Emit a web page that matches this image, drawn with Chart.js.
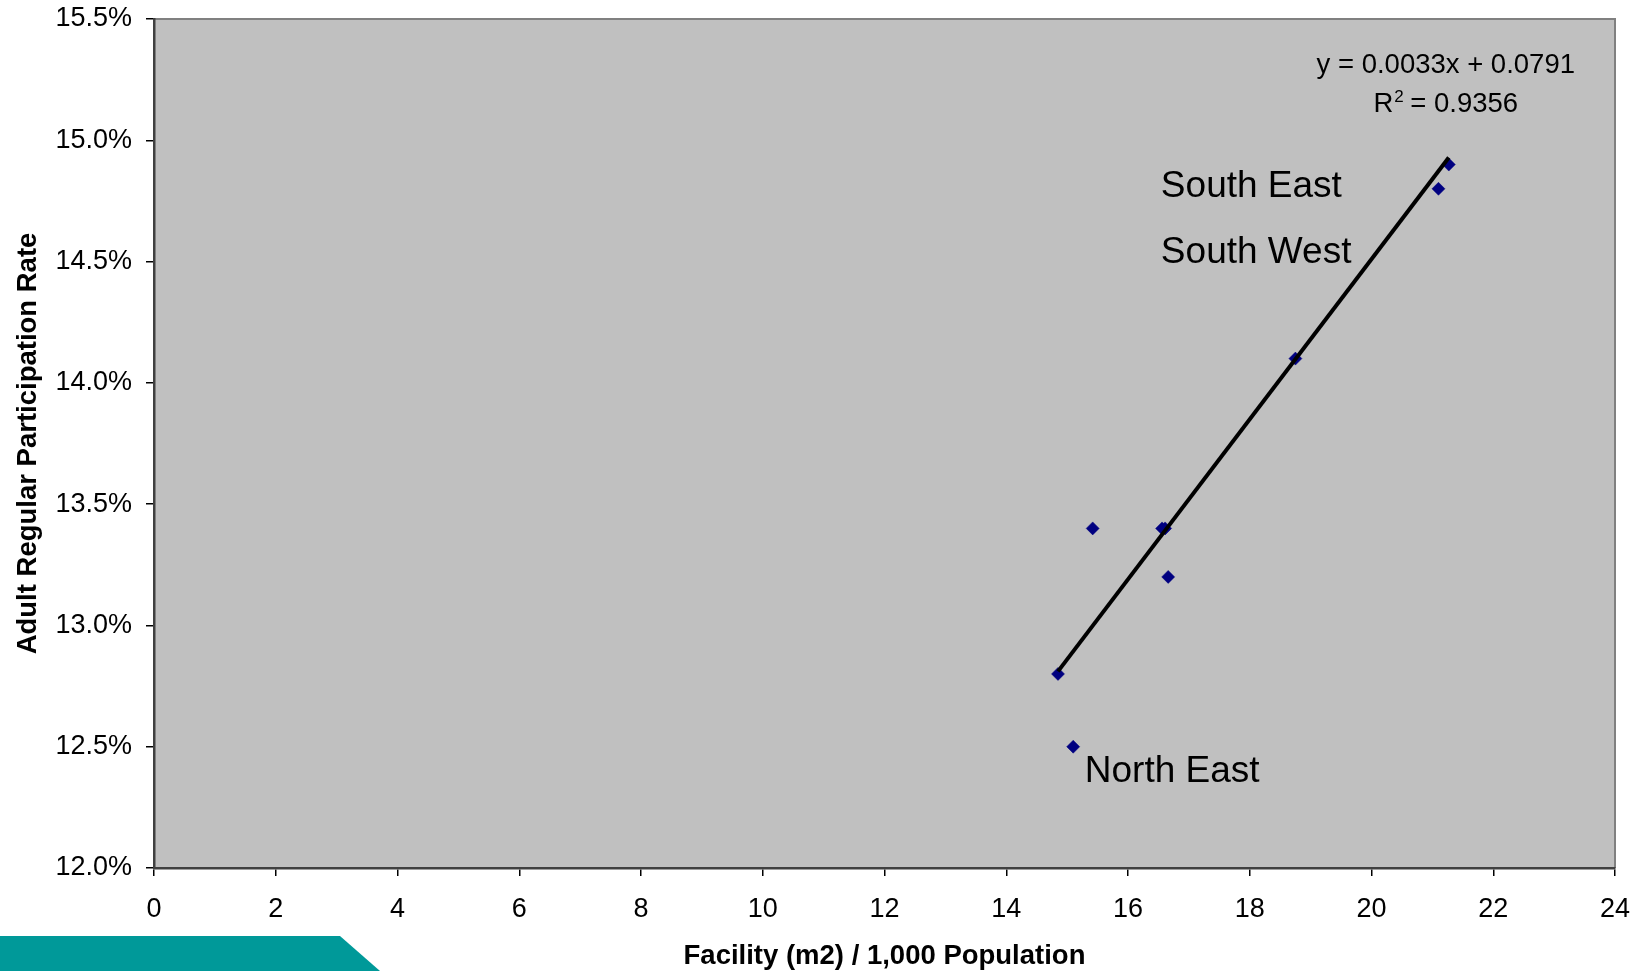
<!DOCTYPE html>
<html>
<head>
<meta charset="utf-8">
<title>Facility provision vs adult participation</title>
<script src="https://cdn.jsdelivr.net/npm/chart.js@4/dist/chart.umd.min.js"></script>
<style>
  html, body { margin: 0; padding: 0; background: #ffffff; }
  #wrap { position: relative; width: 1639px; height: 971px; overflow: hidden; }
  #band {
    position: absolute; left: 0; top: 936px; width: 380px; height: 35px;
    background: #009999;
    clip-path: polygon(0 0, 340px 0, 380px 100%, 0 100%);
  }
  #chart { position: absolute; left: 0; top: 0; }
</style>
</head>
<body>
<div id="wrap">
  <div id="band"></div>
  <canvas id="chart" width="1639" height="971"></canvas>
</div>
<script>
// Facility space (m2 per 1,000 people) and adult regular participation (%) by region
const facility      = [21.27, 21.10, 18.75, 15.42, 16.56, 16.61, 16.66, 14.85, 15.10];
const participation = [14.9,  14.8,  14.1,  13.4,  13.4,  13.4,  13.2,  12.8,  12.5];

// Linear trend (participation as a fraction)
const trendSlope = 0.0033;
const trendIntercept = 0.0791;
const rSquared = 0.9356;

// Axis ticks
const xTicks = [0, 2, 4, 6, 8, 10, 12, 14, 16, 18, 20, 22, 24];
const yTicks = [12.0, 12.5, 13.0, 13.5, 14.0, 14.5, 15.0, 15.5];

// Region call-outs
const regionNames = ['South East', 'South West', 'North East'];

const FONT = "'Liberation Sans', Arial, Helvetica, sans-serif";

const points = facility.map((x, i) => ({ x: x, y: participation[i] }));
const xMin = Math.min(...facility);
const xMax = Math.max(...facility);
const trendAt = x => (trendSlope * x + trendIntercept) * 100;
const trendLine = [{ x: xMin, y: trendAt(xMin) }, { x: xMax, y: trendAt(xMax) }];

// Grey plot area with thin frame on the top and right
const plotBackground = {
  id: 'plotBackground',
  beforeDraw(chart) {
    const { ctx, chartArea: a } = chart;
    ctx.save();
    ctx.fillStyle = '#c0c0c0';
    ctx.fillRect(a.left, a.top, a.right - a.left, a.bottom - a.top);
    ctx.strokeStyle = '#808080';
    ctx.lineWidth = 2;
    ctx.beginPath();
    ctx.moveTo(a.left, a.top);
    ctx.lineTo(a.right, a.top);
    ctx.lineTo(a.right, a.bottom);
    ctx.stroke();
    ctx.restore();
  }
};

// Region names and the trend equation, placed in data coordinates
const callouts = {
  id: 'callouts',
  afterDatasetsDraw(chart) {
    const { ctx, scales: { x, y } } = chart;
    ctx.save();
    ctx.fillStyle = '#000';
    ctx.textBaseline = 'alphabetic';

    ctx.font = '37px ' + FONT;
    ctx.textAlign = 'left';
    const spots = [[16.54, 14.767], [16.54, 14.493], [15.29, 12.356]];
    regionNames.forEach((name, i) => {
      ctx.fillText(name, x.getPixelForValue(spots[i][0]), y.getPixelForValue(spots[i][1]));
    });

    // Equation block
    const cx = x.getPixelForValue(21.22);
    ctx.font = '27.5px ' + FONT;
    ctx.textAlign = 'center';
    const eq = 'y = ' + trendSlope + 'x + ' + trendIntercept;
    ctx.fillText(eq, cx, y.getPixelForValue(15.279));

    const base2 = y.getPixelForValue(15.118);
    ctx.textAlign = 'left';
    const rest = ' = ' + rSquared;
    ctx.font = '27.5px ' + FONT;
    const wR = ctx.measureText('R').width;
    const wRest = ctx.measureText(rest).width;
    ctx.font = '17px ' + FONT;
    const wSup = ctx.measureText('2').width;
    const startX = cx - (wR + wSup + wRest) / 2;
    ctx.font = '27.5px ' + FONT;
    ctx.fillText('R', startX, base2);
    ctx.font = '17px ' + FONT;
    ctx.fillText('2', startX + wR + 1, base2 - 10);
    ctx.font = '27.5px ' + FONT;
    ctx.fillText(rest, startX + wR + wSup, base2);
    ctx.restore();
  }
};

Chart.defaults.font.family = FONT;
Chart.defaults.color = '#000';

new Chart(document.getElementById('chart'), {
  type: 'scatter',
  data: {
    datasets: [
      {
        label: 'Trend',
        data: trendLine,
        showLine: true,
        borderColor: '#000000',
        borderWidth: 4,
        pointRadius: 0,
        pointHoverRadius: 0,
        order: 0
      },
      {
        label: 'Regions',
        data: points,
        pointStyle: 'rectRot',
        pointRadius: 6.5,
        pointHoverRadius: 6.5,
        backgroundColor: '#000080',
        borderColor: '#000080',
        borderWidth: 0.5,
        order: 1
      }
    ]
  },
  options: {
    responsive: false,
    animation: false,
    devicePixelRatio: 1,
    layout: { padding: { left: 0, right: 24, top: 19, bottom: 0 } },
    plugins: {
      legend: { display: false },
      tooltip: { enabled: false }
    },
    scales: {
      x: {
        type: 'linear',
        min: 0,
        max: 24,
        afterBuildTicks(scale) { scale.ticks = xTicks.map(v => ({ value: v })); },
        afterFit(scale) {
          scale.height = 103;
          scale.paddingLeft = 0;
          scale.paddingRight = 0;
        },
        ticks: {
          font: { size: 27 },
          padding: 17.5,
          maxRotation: 0,
          autoSkip: false,
          callback: v => String(v)
        },
        grid: {
          display: true,
          drawOnChartArea: false,
          drawTicks: true,
          tickLength: 8,
          color: '#000000',
          lineWidth: 1.5
        },
        border: { display: true, color: '#404040', width: 2.5 },
        title: {
          display: true,
          text: 'Facility (m2) / 1,000 Population',
          font: { size: 27.5, weight: 'bold', lineHeight: 1.0 },
          padding: { top: 0, bottom: 1 }
        }
      },
      y: {
        type: 'linear',
        min: 12,
        max: 15.5,
        afterBuildTicks(scale) { scale.ticks = yTicks.map(v => ({ value: v })); },
        afterFit(scale) {
          scale.width = 154;
          scale.paddingTop = 0;
          scale.paddingBottom = 0;
        },
        ticks: {
          font: { size: 27 },
          padding: 14,
          autoSkip: false,
          callback: v => Number(v).toFixed(1) + '%'
        },
        grid: {
          display: true,
          drawOnChartArea: false,
          drawTicks: true,
          tickLength: 8,
          color: '#000000',
          lineWidth: 1.5
        },
        border: { display: true, color: '#404040', width: 2.5 },
        title: {
          display: true,
          text: 'Adult Regular Participation Rate',
          font: { size: 27.5, weight: 'bold' },
          padding: { top: 11.5, bottom: 0 }
        }
      }
    }
  },
  plugins: [plotBackground, callouts]
});
</script>
</body>
</html>
